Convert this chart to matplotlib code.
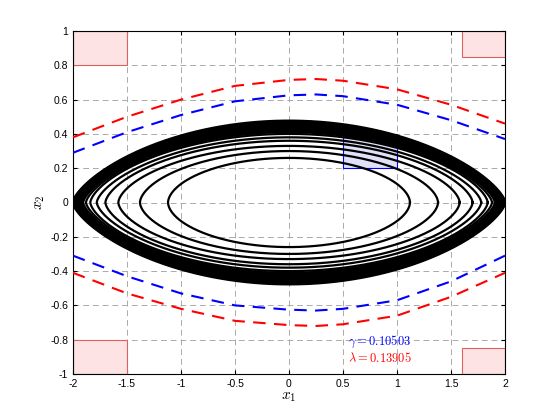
import numpy as np
import matplotlib
matplotlib.use("Agg")
import matplotlib.pyplot as plt
from matplotlib.patches import Rectangle

plt.rcParams['mathtext.fontset'] = 'cm'
plt.rcParams['font.family'] = ['Liberation Sans', 'DejaVu Sans']

# orbit semi-axes (x half-width, y half-height) and pointiness exponent
orbit_a = [1.12, 1.38, 1.58, 1.70, 1.78, 1.84, 1.88, 1.91, 1.93, 1.95, 1.96, 1.97, 1.98, 1.985, 1.99, 1.995, 2.0]
orbit_b = [0.26, 0.30, 0.33, 0.36, 0.38, 0.40, 0.41, 0.42, 0.43, 0.44, 0.445, 0.45, 0.455, 0.46, 0.465, 0.47, 0.475]
orbit_p = [1.1, 1.15, 1.2, 1.25, 1.3, 1.3, 1.35, 1.35, 1.4, 1.4, 1.4, 1.4, 1.4, 1.4, 1.4, 1.4, 1.4]

ux = [-2, -1.5, -1, -0.5, 0, 0.25, 0.5, 1, 1.5, 2]
up_red = [0.38, 0.50, 0.60, 0.68, 0.715, 0.72, 0.71, 0.66, 0.57, 0.46]
up_blue = [0.29, 0.41, 0.51, 0.59, 0.625, 0.63, 0.62, 0.57, 0.48, 0.37]
lo_red = [-0.41, -0.53, -0.62, -0.69, -0.715, -0.72, -0.71, -0.66, -0.55, -0.41]
lo_blue = [-0.31, -0.43, -0.53, -0.60, -0.625, -0.63, -0.62, -0.57, -0.46, -0.31]

red_boxes = [(-2, 0.8, 0.5, 0.2), (1.6, 0.85, 0.4, 0.15), (-2, -1, 0.5, 0.2), (1.6, -1, 0.4, 0.15)]
blue_box = (0.5, 0.2, 0.5, 0.2)

fig = plt.figure(figsize=(5.6, 4.2), dpi=100)
ax = fig.add_axes([73/560, 1-374/420, 432/560, 343/420])

for (x0, y0, w, h) in red_boxes:
    ax.add_patch(Rectangle((x0, y0), w, h, facecolor='#fde3e3', edgecolor='#e06060', lw=0.8, zorder=2))
ax.add_patch(Rectangle(blue_box[:2], blue_box[2], blue_box[3], facecolor='#e0e0f8', edgecolor='blue', lw=0.8, zorder=2))

t = np.linspace(0, 2*np.pi, 600)
for a, b, p in zip(orbit_a, orbit_b, orbit_p):
    s = np.sin(t)
    x = a*np.cos(t)
    y = b*np.sign(s)*np.abs(s)**p
    lw = 1.6 if a < 1.9 else 2.2
    ax.plot(x, y, color='k', lw=lw, zorder=3)

ax.plot(ux, up_red, 'r--', lw=1.5, dashes=(6, 4), zorder=4)
ax.plot(ux, lo_red, 'r--', lw=1.5, dashes=(6, 4), zorder=4)
ax.plot(ux, up_blue, 'b--', lw=1.5, dashes=(6, 4), zorder=4)
ax.plot(ux, lo_blue, 'b--', lw=1.5, dashes=(6, 4), zorder=4)

ax.set_xlim(-2, 2)
ax.set_ylim(-1, 1)
ax.set_xticks(np.arange(-2, 2.01, 0.5))
ax.set_yticks(np.arange(-1, 1.01, 0.2))
ax.set_xticklabels(['-2', '-1.5', '-1', '-0.5', '0', '0.5', '1', '1.5', '2'])
ax.set_yticklabels(['-1', '-0.8', '-0.6', '-0.4', '-0.2', '0', '0.2', '0.4', '0.6', '0.8', '1'])
ax.tick_params(labelsize=7.5, direction='in', length=3, top=True, right=True)
ax.grid(True, color='#aaaaaa', ls=(0, (6, 4)), lw=0.7)
ax.set_axisbelow(True)
ax.set_xlabel(r'$x_1$', fontsize=11, labelpad=1)
ax.set_ylabel(r'$x_2$', fontsize=11, labelpad=2)
ax.text(0.55, -0.83, r'$\gamma = \mathbf{0.10503}$', color='blue', fontsize=9)
ax.text(0.55, -0.93, r'$\lambda = \mathbf{0.13905}$', color='red', fontsize=9)
fig.savefig('out.png', dpi=100)
